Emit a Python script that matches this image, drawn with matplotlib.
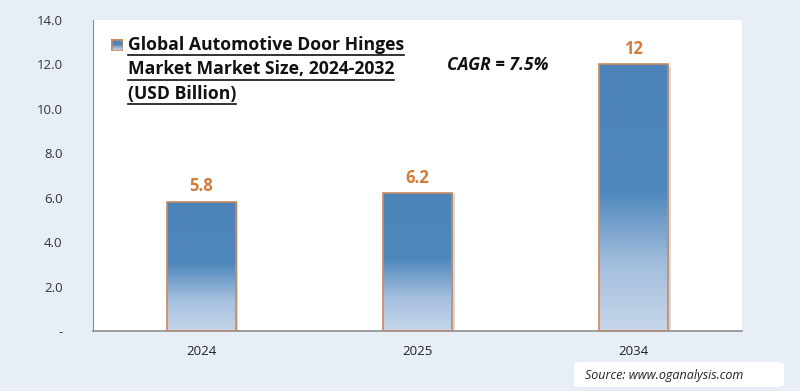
import matplotlib
matplotlib.use("Agg")
import matplotlib.pyplot as plt
import numpy as np
from matplotlib.colors import LinearSegmentedColormap
from matplotlib.patches import FancyBboxPatch, Rectangle

categories = ["2024", "2025", "2034"]
values = [5.8, 6.2, 12]
value_labels = ["5.8", "6.2", "12"]
yticks = [0, 2, 4, 6, 8, 10, 12, 14]
ytick_labels = ["-", "2.0", "4.0", "6.0", "8.0", "10.0", "12.0", "14.0"]
legend_text = "Global Automotive Door Hinges\nMarket Market Size, 2024-2032\n(USD Billion)"
cagr_text = "CAGR = 7.5%"
source_text = "Source: www.oganalysis.com"

bg = "#E8EEF6"
fig = plt.figure(figsize=(8, 3.91), dpi=100, facecolor=bg)
ax = fig.add_axes([93/800, 1-331/391, (742-93)/800, (331-20)/391])
ax.set_facecolor("white")

x = np.arange(len(categories))
width = 0.32

cmap = LinearSegmentedColormap.from_list(
    "g", [(0.0, "#C6D6EA"), (0.25, "#A3BEDD"), (0.52, "#4F88BC"), (1.0, "#4C84B9")])
grad = np.linspace(0, 1, 256).reshape(-1, 1)

bars = ax.bar(x, values, width=width, color="none", edgecolor="#C98A5E", linewidth=1.2, zorder=3)
for b, v, lab in zip(bars, values, value_labels):
    x0 = b.get_x()
    ax.imshow(grad, extent=[x0, x0 + width, 0, v], origin="lower", cmap=cmap,
              aspect="auto", zorder=2)
    ax.add_patch(Rectangle((x0 + width, 0), 0.012, v * 0.995, color="#D5D9DE", zorder=1, lw=0))
    ax.text(b.get_x() + width / 2, v + 0.3, lab, ha="center", va="bottom",
            color="#D27B3A", fontsize=12, fontweight="bold", family="Open Sans")
ax.set_aspect("auto")
ax.set_xlim(-0.5, len(categories) - 0.5)
ax.set_ylim(0, 14)

ax.set_xticks(x)
ax.set_xticklabels(categories, fontsize=9.5, color="#222222", family="Open Sans")
ax.set_yticks(yticks)
ax.set_yticklabels(ytick_labels, fontsize=9.5, color="#333333", family="Open Sans")
ax.tick_params(axis="both", length=0, pad=10)
ax.tick_params(axis="y", pad=22)
for s in ["top", "right"]:
    ax.spines[s].set_visible(False)
ax.spines["left"].set_color("#8C8C8C")
ax.spines["bottom"].set_color("#8C8C8C")
ax.spines["bottom"].set_linewidth(1.2)

# legend marker
lax = fig.add_axes([111/800, 1-51/391, 12/800, 12/391])
lax.imshow(grad, cmap=cmap, origin="lower", aspect="auto", extent=[0, 1, 0, 1])
lax.add_patch(Rectangle((0, 0), 1, 1, fill=False, edgecolor="#C98A5E", lw=1.8))
lax.set_xlim(0, 1); lax.set_ylim(0, 1)
lax.axis("off")

lines = legend_text.split("\n")
for i, line in enumerate(lines):
    fig.text(128/800, 1 - (45 + i * 24.5)/391, line, fontsize=12.7, fontweight="bold",
             family="Open Sans", color="#111111", va="center", ha="left")
fig.canvas.draw()
r = fig.canvas.get_renderer()
for t in list(fig.texts):
    bb = t.get_window_extent(r)
    y = bb.y0 - 1
    fig.add_artist(plt.Line2D([bb.x0/800, bb.x1/800], [y/391, y/391], color="#111111", lw=1.2,
                              transform=fig.transFigure))

fig.text(447/800, 1 - 65/391, cagr_text, fontsize=12.5, fontweight="bold", style="italic",
         family="Open Sans", color="#111111", va="center", ha="left")

fig.patches.append(FancyBboxPatch((574/800, 1 - 387/391), 210/800, 25/391,
                                  boxstyle="round,pad=0,rounding_size=0.008",
                                  transform=fig.transFigure, facecolor="white",
                                  edgecolor="none", figure=fig))
fig.text(585/800, 1 - 375/391, source_text, fontsize=9, style="italic",
         family="Open Sans", color="#222222", va="center", ha="left")

fig.savefig("out.png", dpi=100, facecolor=bg)
